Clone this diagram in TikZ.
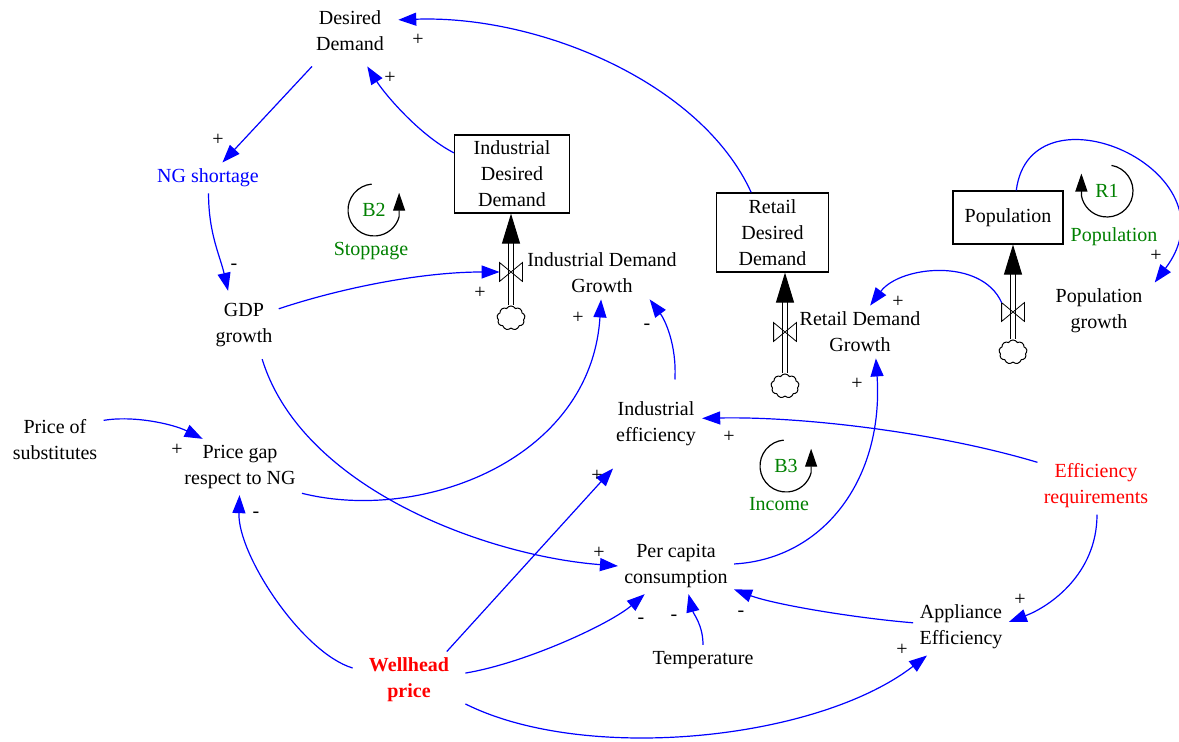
\documentclass[tikz,border=0pt]{standalone}
\usepackage{fontspec}
\setmainfont{Liberation Serif}
\usetikzlibrary{arrows.meta,shapes.symbols}
\definecolor{loopgreen}{RGB}{0,128,0}
\begin{document}
\begin{tikzpicture}[x=0.5pt,y=-0.5pt,font=\fontsize{10}{13}\selectfont,
  var/.style={align=center,inner sep=3pt},
  stock/.style={draw,line width=0.6pt,align=center,inner sep=0pt},
  link/.style={blue,line width=0.6pt,-{Triangle[length=9pt,width=6.5pt]}},
  pipe/.style={double,double distance=2.2pt,line width=0.5pt,-{Triangle[length=15pt,width=9pt]}},
  valve/.style={inner sep=0pt,minimum width=11pt,minimum height=9pt},
  source/.style={cloud,cloud puffs=9,cloud puff arc=120,aspect=1.2,draw,line width=0.5pt,inner sep=0pt,minimum width=14pt,minimum height=12pt},
  loopname/.style={text=loopgreen},
  loopicon/.style={line width=0.6pt,-{Triangle[length=9pt,width=6pt]}},
  sign/.style={inner sep=0pt}]
\useasboundingbox (0,0) rectangle (1179,742);
\node[var,inner xsep=7pt,inner ysep=7.5pt] (dd) at (350,31) {Desired\\Demand};
\node[var,text=blue] (ngs) at (208,178) {NG shortage};
\node[var,inner ysep=6pt] (gdp) at (244,325) {GDP\\growth};
\node[stock,minimum width=57.5pt,minimum height=39pt] (itd) at (512,174) {Industrial\\Desired\\Demand};
\node[var] (idg) at (602,273) {Industrial Demand\\Growth};
\node[stock,minimum width=56pt,minimum height=39.5pt] (rdd) at (772.5,232.5) {Retail\\Desired\\Demand};
\node[var] (rdg) at (860,332) {Retail Demand\\Growth};
\node[stock,minimum width=55pt,minimum height=26.5pt] (pop) at (1008,217.5) {Population};
\node[var,inner xsep=6pt] (popg) at (1099,311) {Population\\growth};
\node[var] (pos) at (55,440) {Price of\\substitutes};
\node[var] (pg) at (240,467) {Price gap\\respect to NG};
\node[var,inner ysep=11pt] (ie) at (656,424) {Industrial\\efficiency};
\node[var,text=red] (er) at (1096,486) {Efficiency\\requirements};
\node[var] (pcc) at (676,566) {Per capita\\consumption};
\node[var] (ae) at (961,627) {Appliance\\Efficiency};
\node[var] (temp) at (703,660) {Temperature};
\node[var,text=red,font=\fontsize{10}{13}\selectfont\bfseries,inner xsep=8pt] (wp) at (409,680) {Wellhead\\price};
\node[valve] (iv) at (511,272) {};
\node[source] (ic) at (511,318) {};
\node[valve] (rv) at (785,332) {};
\node[source] (rc) at (785,386) {};
\node[valve] (pv) at (1013,312) {};
\node[source] (pc) at (1013,352) {};
\draw[pipe] (ic) -- (ic |- itd.south);
\draw[pipe] (rc) -- (rc |- rdd.south);
\draw[pipe] (pc) -- (pc |- pop.south);
\foreach \v in {iv,rv,pv} \draw (\v.south west) -- (\v.north east) -- (\v.south east) -- (\v.north west) -- cycle;
\node[loopname] (b2) at (374,210) {B2};
\node[loopname] (b2n) at (371,251) {Stoppage};
\draw[loopicon] (b2) ++(-95:26) arc[start angle=-95,end angle=-345,radius=26] -- ++(0,-24);
\node[loopname] (b3) at (786,466) {B3};
\node[loopname] (b3n) at (779,504) {Income};
\draw[loopicon] (b3) ++(-95:26) arc[start angle=-95,end angle=-345,radius=26] -- ++(0,-24);
\node[loopname] (r1) at (1107,191) {R1};
\node[loopname] (r1n) at (1114,237) {Population};
\draw[loopicon] (r1) ++(-80:26) arc[start angle=-80,end angle=170,radius=26] -- ++(0,-22);
\draw[link] (rdd.118) .. controls +(-50,-110) and +(140,-5) .. (dd.13);
\draw[link] (itd.160) .. controls +(-35,-18) and +(17,27) .. (dd.-64);
\draw[link] (dd.-137) -- (ngs.47);
\draw[link] (ngs.-88) .. controls +(0,40) and +(-8,-35) .. (gdp.115);
\draw[link] (gdp.25) .. controls +(60,-20) and +(-80,0) .. (iv.west);
\draw[link] (gdp.-62) .. controls +(40,130) and +(-130,-10) .. (pcc.west);
\draw[link] (pos.22) .. controls +(30,-5) and +(-30,-15) .. (pg.143);
\draw[link] (pg.-23) .. controls +(120,30) and +(-10,160) .. (idg.-92);
\draw[link] (ie.67) .. controls +(2,-35) and +(15,20) .. (idg.-29);
\draw[link] (er.158) .. controls +(-100,-30) and +(100,-2) .. (ie.7);
\draw[link] (er.-88) .. controls +(0,60) and +(40,-15) .. (ae.6);
\draw[link] (ae.175) .. controls +(-60,-5) and +(40,15) .. (pcc.-22);
\draw[link] (temp.north) .. controls +(0,-20) and +(5,20) .. (pcc.-66);
\draw[link] (wp.7) .. controls +(60,-10) and +(-35,30) .. (pcc.-138);
\draw[link] (wp.37) -- (ie.-134);
\draw[link] (wp.168) .. controls +(-50,-15) and +(-2,60) .. (pg.-91);
\draw[link] (wp.-23) .. controls +(120,60) and +(-110,85) .. (ae.-140);
\draw[link] (pcc.2) .. controls +(90,-5) and +(8,120) .. (rdg.-59);
\draw[link] (pv.north west) .. controls +(-20,-45) and +(30,-40) .. (rdg.69);
\draw[link] (pop.73) .. controls +(14,-111) and +(85,-112) .. (popg.north east);
\foreach \n/\x/\y/\s in {s1/418/40/+,s2/390/78/+,s3/218/140/+,s4/234/267/-,s5/480/293/+,s6/599/553/+,s7/177/450/+,s8/578/318/+,s9/647/327/-,s10/729/437/+,s11/1020/600/+,s12/741/614/-,s13/674/618/-,s14/641/621/-,s15/597/476/+,s16/256/515/-,s17/902/650/+,s18/857/384/+,s19/898/302/+,s20/1156/256/+}
  \node[sign] (\n) at (\x,\y) {\s};
\end{tikzpicture}
\end{document}
